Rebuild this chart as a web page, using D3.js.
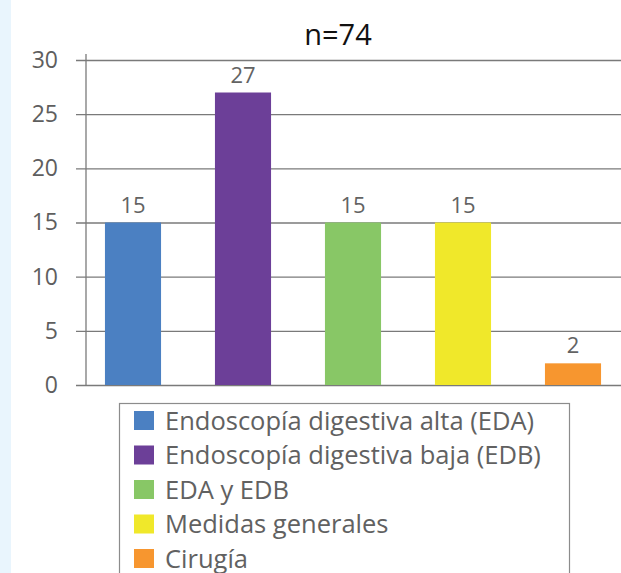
<!DOCTYPE html>
<html><head><meta charset="utf-8">
<script src="https://cdn.jsdelivr.net/npm/d3@7"></script>
<style>
html,body{margin:0;padding:0;background:#fff;}
svg{display:block;}
</style></head>
<body>
<script>
const categories = ["Endoscopía digestiva alta (EDA)", "Endoscopía digestiva baja (EDB)", "EDA y EDB", "Medidas generales", "Cirugía"];
const values = [15, 27, 15, 15, 2];
const colors = ["#4b80c2", "#6c3f98", "#88c766", "#f0e82a", "#f7962f"];
const yTicks = [0, 5, 10, 15, 20, 25, 30];
const title = "n=74";

const W = 621, H = 573;
const FONT = "'Open Sans', 'Noto Sans', sans-serif";
const svg = d3.select("body").append("svg").attr("width", W).attr("height", H);

svg.append("rect").attr("x", 0).attr("y", 0).attr("width", 11).attr("height", H).attr("fill", "#e9f5fd");

const y = d3.scaleLinear().domain([0, 30]).range([385, 60]);
const x = d3.scaleBand().domain(categories).range([78, 628]).paddingInner(0.49).paddingOuter(0.245);

// gridlines
const yAxis = d3.axisLeft(y).tickValues(yTicks).tickSize(-(W - 76)).tickPadding(18).tickFormat(d3.format("d"));
const gA = svg.append("g").attr("transform", "translate(76,0)").call(yAxis);
gA.select(".domain").remove();
gA.selectAll(".tick line").attr("stroke", "#7a7a7a").attr("stroke-width", 1.3);
gA.selectAll(".tick text").attr("fill", "#5e5e5e").style("font-family", FONT).style("font-size", "23px");

// vertical axis
svg.append("line").attr("x1", 86).attr("x2", 86).attr("y1", 54).attr("y2", 386)
  .attr("stroke", "#7a7a7a").attr("stroke-width", 1.3);

// bars
svg.selectAll("rect.bar").data(values).join("rect").attr("class", "bar")
  .attr("x", (d, i) => x(categories[i]))
  .attr("width", x.bandwidth())
  .attr("y", d => y(d))
  .attr("height", d => y(0) - y(d))
  .attr("fill", (d, i) => colors[i]);

svg.selectAll("text.val").data(values).join("text").attr("class", "val")
  .attr("x", (d, i) => x(categories[i]) + x.bandwidth() / 2)
  .attr("y", d => y(d) - 10)
  .attr("text-anchor", "middle")
  .attr("fill", "#636363")
  .style("font-family", FONT).style("font-size", "22px")
  .text(d => d);

svg.append("text").attr("x", 338).attr("y", 45).attr("text-anchor", "middle")
  .attr("fill", "#111").style("font-family", FONT).style("font-size", "29px").text(title);

// legend
svg.append("rect").attr("x", 119.5).attr("y", 403.5).attr("width", 450).attr("height", 200)
  .attr("fill", "none").attr("stroke", "#8c8c8c").attr("stroke-width", 1.2);
const lg = svg.selectAll("g.leg").data(categories).join("g").attr("class", "leg")
  .attr("transform", (d, i) => `translate(134,${411 + i * 34.5})`);
lg.append("rect").attr("width", 20).attr("height", 19).attr("fill", (d, i) => colors[i]);
lg.append("text").attr("x", 31).attr("y", 18.5).attr("fill", "#616161")
  .style("font-family", FONT).style("font-size", "25.5px").text(d => d);
</script>
</body></html>
